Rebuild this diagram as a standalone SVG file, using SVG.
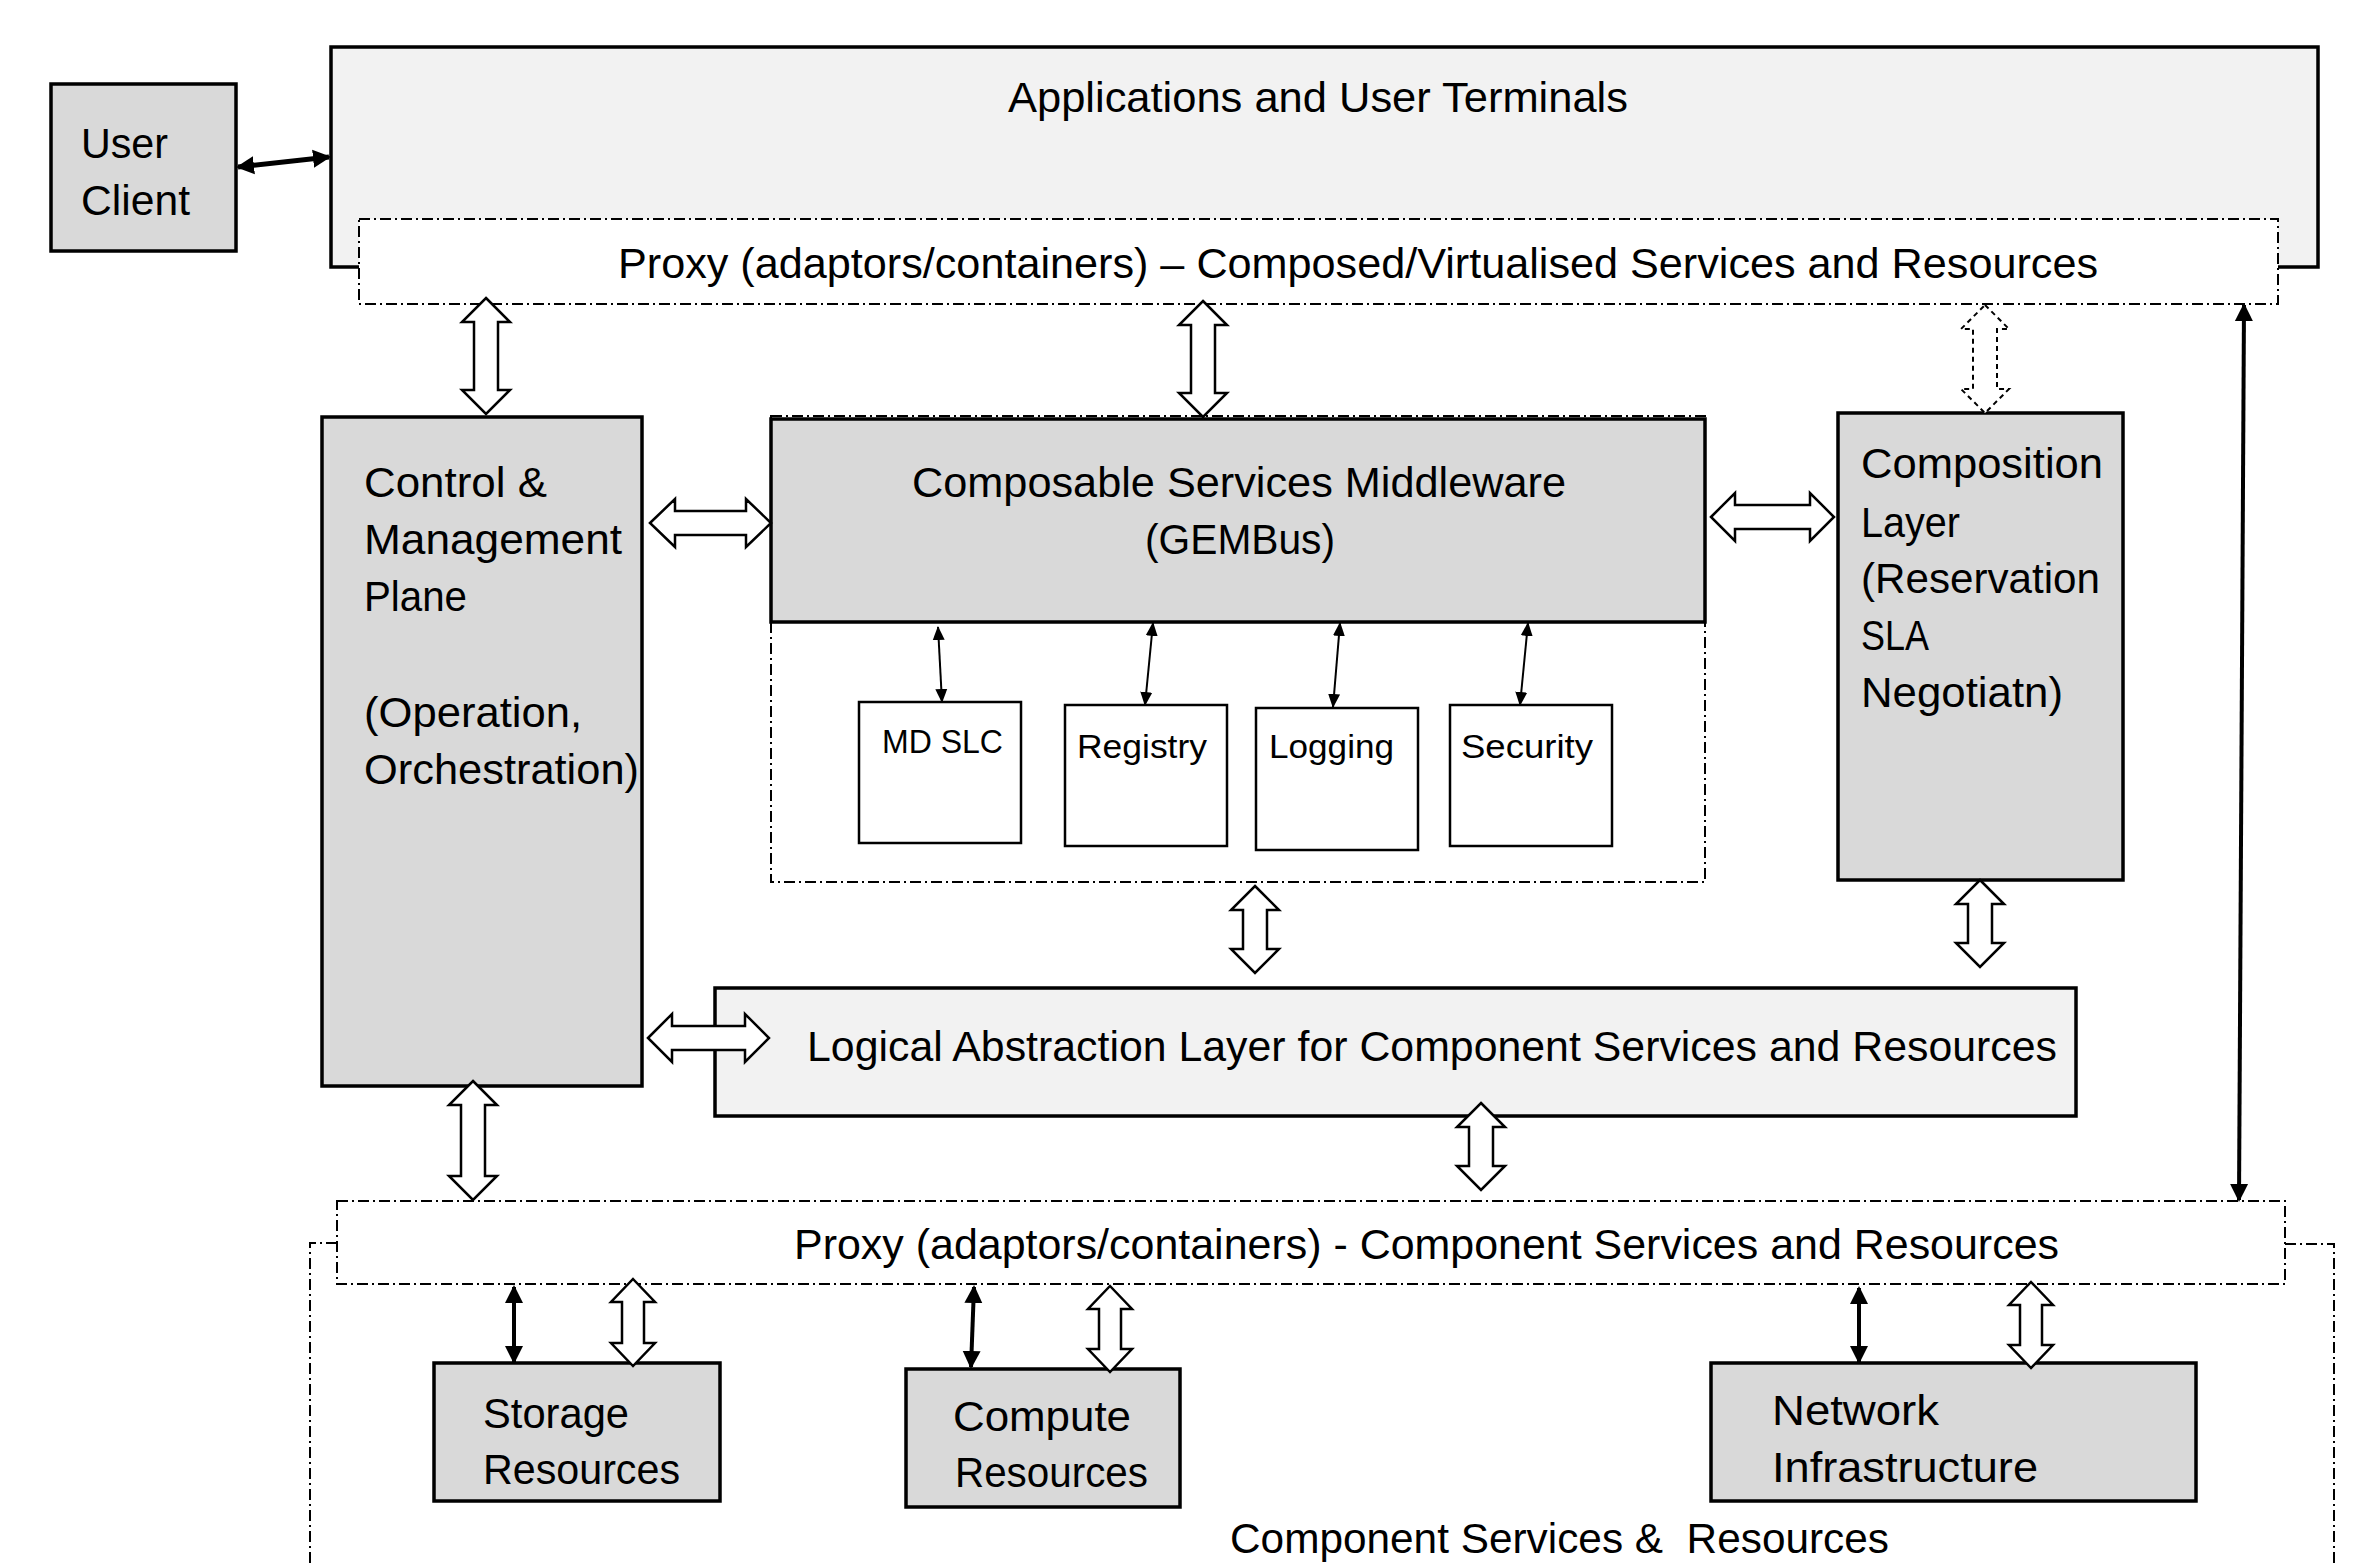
<svg xmlns="http://www.w3.org/2000/svg" width="2369" height="1564" viewBox="0 0 2369 1564">
<style>
text{font-family:"Liberation Sans",Arial,sans-serif;font-size:42px;fill:#000;white-space:pre}
.sm{font-size:33px}
.box{stroke:#000;stroke-width:3.5}
.gray{fill:#d9d9d9}
.light{fill:#f2f2f2}
.white{fill:#fff}
.dd{fill:none;stroke:#000;stroke-width:2;stroke-dasharray:11 4 2 4}
.ddw{fill:#fff;stroke:#000;stroke-width:2;stroke-dasharray:11 4 2 4}
.blk{fill:#fff;stroke:#000;stroke-width:2.5;stroke-linejoin:miter}
.blkd{fill:#fff;stroke:#000;stroke-width:2;stroke-dasharray:5 4}
.thk{stroke:#000;stroke-width:4;fill:none}
.thn{stroke:#000;stroke-width:2;fill:none}
</style>
<defs>
<marker id="ah" markerUnits="userSpaceOnUse" markerWidth="20" markerHeight="20" refX="16" refY="9" orient="auto-start-reverse" viewBox="0 0 20 18">
<path d="M0,0 L18,9 L0,18 z" fill="#000"/>
</marker>
<marker id="as" markerUnits="userSpaceOnUse" markerWidth="16" markerHeight="14" refX="13" refY="6" orient="auto-start-reverse" viewBox="0 0 16 12">
<path d="M0,0 L14,6 L0,12 z" fill="#000"/>
</marker>
</defs>

<g id="applications">
<rect class="box light" x="331" y="47" width="1987" height="220"/>
<text x="1008" y="112" textLength="620" lengthAdjust="spacingAndGlyphs">Applications and User Terminals</text>
</g>
<g id="proxy-top">
<rect class="ddw" x="359" y="219" width="1919" height="85"/>
<text x="618" y="278" textLength="1480" lengthAdjust="spacingAndGlyphs">Proxy (adaptors/containers) – Composed/Virtualised Services and Resources</text>
</g>
<g id="user-client">
<rect class="box gray" x="51" y="84" width="185" height="167"/>
<text x="81" y="158" textLength="87" lengthAdjust="spacingAndGlyphs">User</text>
<text x="81" y="215" textLength="109" lengthAdjust="spacingAndGlyphs">Client</text>
</g>
<g id="control-plane">
<rect class="box gray" x="322" y="417" width="320" height="669"/>
<text x="364" y="497" textLength="183" lengthAdjust="spacingAndGlyphs">Control &amp;</text>
<text x="364" y="554" textLength="258" lengthAdjust="spacingAndGlyphs">Management</text>
<text x="364" y="611" textLength="103" lengthAdjust="spacingAndGlyphs">Plane</text>
<text x="364" y="727" textLength="218" lengthAdjust="spacingAndGlyphs">(Operation,</text>
<text x="364" y="784" textLength="275" lengthAdjust="spacingAndGlyphs">Orchestration)</text>
</g>
<g id="middleware-container">
<rect class="dd" x="771" y="416" width="934" height="466"/>
</g>
<g id="middleware">
<rect class="box gray" x="771" y="419" width="934" height="203"/>
<text x="912" y="497" textLength="654" lengthAdjust="spacingAndGlyphs">Composable Services Middleware</text>
<text x="1145" y="554" textLength="190" lengthAdjust="spacingAndGlyphs">(GEMBus)</text>
</g>
<g id="md-slc">
<rect class="box white" x="859" y="702" width="162" height="141" style="stroke-width:2.5"/>
<text class="sm" x="882" y="753" textLength="121" lengthAdjust="spacingAndGlyphs">MD SLC</text>
</g>
<g id="registry">
<rect class="box white" x="1065" y="705" width="162" height="141" style="stroke-width:2.5"/>
<text class="sm" x="1077" y="758" textLength="130" lengthAdjust="spacingAndGlyphs">Registry</text>
</g>
<g id="logging">
<rect class="box white" x="1256" y="708" width="162" height="142" style="stroke-width:2.5"/>
<text class="sm" x="1269" y="758" textLength="125" lengthAdjust="spacingAndGlyphs">Logging</text>
</g>
<g id="security">
<rect class="box white" x="1450" y="705" width="162" height="141" style="stroke-width:2.5"/>
<text class="sm" x="1461" y="758" textLength="132" lengthAdjust="spacingAndGlyphs">Security</text>
</g>
<g id="composition-layer">
<rect class="box gray" x="1838" y="413" width="285" height="467"/>
<text x="1861" y="478" textLength="242" lengthAdjust="spacingAndGlyphs">Composition</text>
<text x="1861" y="537" textLength="99" lengthAdjust="spacingAndGlyphs">Layer</text>
<text x="1861" y="593" textLength="239" lengthAdjust="spacingAndGlyphs">(Reservation</text>
<text x="1861" y="650" textLength="68" lengthAdjust="spacingAndGlyphs">SLA</text>
<text x="1861" y="707" textLength="202" lengthAdjust="spacingAndGlyphs">Negotiatn)</text>
</g>
<g id="logical-abstraction">
<rect class="box light" x="715" y="988" width="1361" height="128"/>
<text x="807" y="1061" textLength="1250" lengthAdjust="spacingAndGlyphs">Logical Abstraction Layer for Component Services and Resources</text>
</g>
<g id="component-area">
<path class="dd" d="M337,1243 H310 V1570"/>
<path class="dd" d="M2285,1244 H2334 V1570"/>
<text x="1230" y="1553" textLength="659" lengthAdjust="spacingAndGlyphs">Component Services &amp;  Resources</text>
</g>
<g id="proxy-bottom">
<rect class="ddw" x="337" y="1201" width="1948" height="83"/>
<text x="794" y="1259" textLength="1265" lengthAdjust="spacingAndGlyphs">Proxy (adaptors/containers) - Component Services and Resources</text>
</g>
<g id="storage">
<rect class="box gray" x="434" y="1363" width="286" height="138"/>
<text x="483" y="1428" textLength="146" lengthAdjust="spacingAndGlyphs">Storage</text>
<text x="483" y="1484" textLength="197" lengthAdjust="spacingAndGlyphs">Resources</text>
</g>
<g id="compute">
<rect class="box gray" x="906" y="1369" width="274" height="138"/>
<text x="953" y="1431" textLength="178" lengthAdjust="spacingAndGlyphs">Compute</text>
<text x="955" y="1487" textLength="193" lengthAdjust="spacingAndGlyphs">Resources</text>
</g>
<g id="network">
<rect class="box gray" x="1711" y="1363" width="485" height="138"/>
<text x="1772" y="1425" textLength="167" lengthAdjust="spacingAndGlyphs">Network</text>
<text x="1772" y="1482" textLength="266" lengthAdjust="spacingAndGlyphs">Infrastructure</text>
</g>

<g id="connectors">
<line class="thk" x1="238" y1="167" x2="329" y2="157" marker-start="url(#ah)" marker-end="url(#ah)" style="stroke-width:5"/>
<line class="thk" x1="2244" y1="305" x2="2239" y2="1200" marker-start="url(#ah)" marker-end="url(#ah)"/>
<line class="thn" x1="938" y1="627" x2="942" y2="702" marker-start="url(#as)" marker-end="url(#as)"/>
<line class="thn" x1="1153" y1="623" x2="1145" y2="705" marker-start="url(#as)" marker-end="url(#as)"/>
<line class="thn" x1="1340" y1="623" x2="1333" y2="707" marker-start="url(#as)" marker-end="url(#as)"/>
<line class="thn" x1="1528" y1="623" x2="1520" y2="705" marker-start="url(#as)" marker-end="url(#as)"/>
<line class="thk" x1="514" y1="1287" x2="514" y2="1362" marker-start="url(#ah)" marker-end="url(#ah)"/>
<line class="thk" x1="974" y1="1287" x2="971" y2="1367" marker-start="url(#ah)" marker-end="url(#ah)"/>
<line class="thk" x1="1859" y1="1288" x2="1859" y2="1362" marker-start="url(#ah)" marker-end="url(#ah)"/>
<path class="blk" d="M486,298 L510,322 L498,322 L498,390 L510,390 L486,414 L462,390 L474,390 L474,322 L462,322 Z"/>
<path class="blk" d="M1203,301 L1227,325 L1215,325 L1215,393 L1227,393 L1203,417 L1179,393 L1191,393 L1191,325 L1179,325 Z"/>
<path class="blkd" d="M1985,305 L2009,329 L1997,329 L1997,389 L2009,389 L1985,413 L1961,389 L1973,389 L1973,329 L1961,329 Z"/>
<path class="blk" d="M1255,886 L1279,910 L1267,910 L1267,949 L1279,949 L1255,973 L1231,949 L1243,949 L1243,910 L1231,910 Z"/>
<path class="blk" d="M1980,880 L2004,904 L1992,904 L1992,943 L2004,943 L1980,967 L1956,943 L1968,943 L1968,904 L1956,904 Z"/>
<path class="blk" d="M473,1081 L497,1105 L485,1105 L485,1176 L497,1176 L473,1200 L449,1176 L461,1176 L461,1105 L449,1105 Z"/>
<path class="blk" d="M1481,1103 L1505,1127 L1493,1127 L1493,1166 L1505,1166 L1481,1190 L1457,1166 L1469,1166 L1469,1127 L1457,1127 Z"/>
<path class="blk" d="M633,1279 L655,1302 L644,1302 L644,1343 L655,1343 L633,1366 L611,1343 L622,1343 L622,1302 L611,1302 Z"/>
<path class="blk" d="M1110,1286 L1132,1309 L1121,1309 L1121,1349 L1132,1349 L1110,1372 L1088,1349 L1099,1349 L1099,1309 L1088,1309 Z"/>
<path class="blk" d="M2031,1282 L2053,1305 L2042,1305 L2042,1345 L2053,1345 L2031,1368 L2009,1345 L2020,1345 L2020,1305 L2009,1305 Z"/>
<path class="blk" d="M650,523 L675,499 L675,511 L746,511 L746,499 L771,523 L746,547 L746,535 L675,535 L675,547 Z"/>
<path class="blk" d="M1711,517 L1735,493 L1735,505 L1810,505 L1810,493 L1834,517 L1810,541 L1810,529 L1735,529 L1735,541 Z"/>
<path class="blk" d="M648,1038 L672,1014 L672,1026 L745,1026 L745,1014 L769,1038 L745,1062 L745,1050 L672,1050 L672,1062 Z"/>
</g>
</svg>
